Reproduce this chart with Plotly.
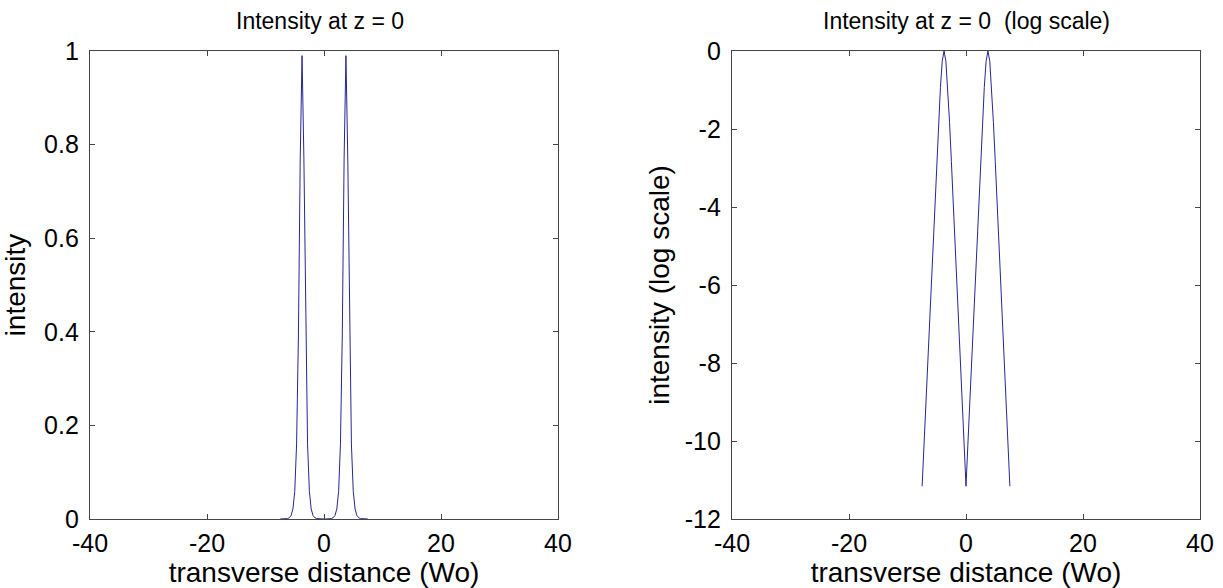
import plotly.graph_objects as go
from plotly.subplots import make_subplots

# transverse positions (Wo)
x_pos = [-7.5, -7.1875, -6.875, -6.5625, -6.25, -5.9375, -5.625, -5.3125, -5.0,
         -4.6875, -4.375, -4.0625, -3.75, -3.4375, -3.125, -2.8125, -2.5, -2.1875,
         -1.875, -1.5625, -1.25, -0.9375, -0.625, -0.3125, 0.0, 0.3125, 0.625,
         0.9375, 1.25, 1.5625, 1.875, 2.1875, 2.5, 2.8125, 3.125, 3.4375, 3.75,
         4.0625, 4.375, 4.6875, 5.0, 5.3125, 5.625, 5.9375, 6.25, 6.5625, 6.875,
         7.1875, 7.5]

# intensity (linear)
intensity = [0.000014, 0.00004, 0.00011, 0.00033, 0.00093, 0.0027, 0.0075, 0.0213,
             0.059, 0.160, 0.391, 0.771, 0.99, 0.771, 0.391, 0.160, 0.059, 0.0213,
             0.0075, 0.0027, 0.00093, 0.00033, 0.00011, 0.00004, 0.000014, 0.00004,
             0.00011, 0.00033, 0.00093, 0.0027, 0.0075, 0.0213, 0.059, 0.160, 0.391,
             0.771, 0.99, 0.771, 0.391, 0.160, 0.059, 0.0213, 0.0075, 0.0027, 0.00093,
             0.00033, 0.00011, 0.00004, 0.000014]

# intensity (natural log scale)
log_intensity = [-11.16, -10.11, -9.08, -8.03, -6.98, -5.93, -4.89, -3.85, -2.83,
                 -1.83, -0.94, -0.26, 0.0, -0.26, -0.94, -1.83, -2.83, -3.85, -4.89,
                 -5.93, -6.98, -8.03, -9.08, -10.11, -11.16, -10.11, -9.08, -8.03,
                 -6.98, -5.93, -4.89, -3.85, -2.83, -1.83, -0.94, -0.26, 0.0, -0.26,
                 -0.94, -1.83, -2.83, -3.85, -4.89, -5.93, -6.98, -8.03, -9.08,
                 -10.11, -11.16]

x_ticks = [-40, -20, 0, 20, 40]
x_labels = ["-40", "-20", "0", "20", "40"]
y1_ticks = [0, 0.2, 0.4, 0.6, 0.8, 1]
y1_labels = ["0", "0.2", "0.4", "0.6", "0.8", "1"]
y2_ticks = [-12, -10, -8, -6, -4, -2, 0]
y2_labels = ["-12", "-10", "-8", "-6", "-4", "-2", "0"]

W, H = 1223, 588
FONT = "Liberation Sans, Arial, sans-serif"
FS = 23
TFS = 25
LINE = "rgb(38,38,150)"
AX = "rgb(70,70,70)"

fig = make_subplots(rows=1, cols=2)
fig.add_trace(go.Scatter(x=x_pos, y=intensity, mode="lines",
                         line=dict(color=LINE, width=1), showlegend=False), 1, 1)
fig.add_trace(go.Scatter(x=x_pos, y=log_intensity, mode="lines",
                         line=dict(color=LINE, width=1), showlegend=False), 1, 2)

common = dict(showgrid=False, zeroline=False, showline=True, linecolor=AX,
              linewidth=1.3, mirror="ticks", ticks="inside", ticklen=5,
              tickcolor=AX, automargin=False,
              tickfont=dict(size=TFS, color="black", family=FONT))

ytop, ybot = 51, 519
ydom = [1 - ybot / H, 1 - ytop / H]
fig.update_layout(
    width=W, height=H, margin=dict(l=0, r=0, t=0, b=0),
    paper_bgcolor="white", plot_bgcolor="white",
    font=dict(family=FONT, size=FS, color="black"),
    xaxis=dict(domain=[90 / W, 558 / W], range=[-40, 40], tickvals=x_ticks,
               ticktext=x_labels, ticklabelstandoff=2,
               title=dict(text="transverse distance (Wo)", standoff=2), **common),
    yaxis=dict(domain=ydom, range=[0, 1], tickvals=y1_ticks, ticktext=y1_labels,
               ticklabelstandoff=5,
               title=dict(text="intensity", standoff=10), **common),
    xaxis2=dict(domain=[732 / W, 1200 / W], range=[-40, 40], tickvals=x_ticks,
                ticktext=x_labels, ticklabelstandoff=2,
                title=dict(text="transverse distance (Wo)", standoff=2), **common),
    yaxis2=dict(domain=ydom, range=[-12, 0], tickvals=y2_ticks, ticktext=y2_labels,
                ticklabelstandoff=5,
                title=dict(text="intensity (log scale)", standoff=6), **common),
    annotations=[
        dict(text="Intensity at z = 0", x=320 / W, y=1 - 21 / H, xref="paper",
             yref="paper", showarrow=False, xanchor="center", yanchor="middle",
             font=dict(size=FS, family=FONT)),
        dict(text="Intensity at z = 0&nbsp;&nbsp;(log scale)", x=966 / W, y=1 - 21 / H,
             xref="paper", yref="paper", showarrow=False, xanchor="center",
             yanchor="middle", font=dict(size=FS, family=FONT)),
    ],
)

fig.write_html("out.html")
